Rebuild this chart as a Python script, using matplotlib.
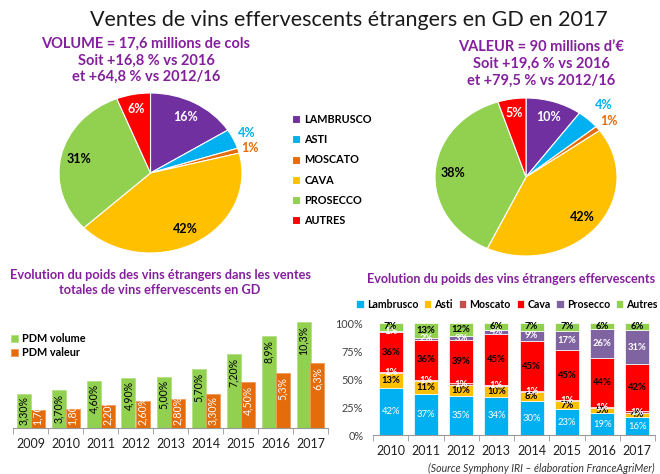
import matplotlib
matplotlib.use('Agg')
import matplotlib.pyplot as plt
from matplotlib.transforms import TransformedBbox
import numpy as np

plt.rcParams['font.family'] = ['Lato', 'DejaVu Sans']

# ---------------- data ----------------
pie_names = ['LAMBRUSCO', 'ASTI', 'MOSCATO', 'CAVA', 'PROSECCO', 'AUTRES']
pie_volume = [16, 4, 1, 42, 31, 6]
pie_valeur = [10, 4, 1, 42, 38, 5]

years_pdm = ['2009', '2010', '2011', '2012', '2013', '2014', '2015', '2016', '2017']
pdm_volume = [3.3, 3.7, 4.6, 4.9, 5.0, 5.7, 7.2, 8.9, 10.3]
pdm_valeur = [1.7, 1.8, 2.2, 2.6, 2.8, 3.3, 4.5, 5.3, 6.3]
pdm_volume_labels = ['3,30%', '3,70%', '4,60%', '4,90%', '5,00%', '5,70%', '7,20%', '8,9%', '10,3%']
pdm_valeur_labels = ['1,70%', '1,80%', '2,20%', '2,60%', '2,80%', '3,30%', '4,50%', '5,3%', '6,3%']

years_mix = ['2010', '2011', '2012', '2013', '2014', '2015', '2016', '2017']
mix_names = ['Lambrusco', 'Asti', 'Moscato', 'Cava', 'Prosecco', 'Autres']
lambrusco = [42, 37, 35, 34, 30, 23, 19.4, 16]
asti = [13, 11, 10, 10, 8, 7, 4.6, 4]
moscato = [1, 1, 1, 1, 1, 1, 1.0, 1]
cava = [36, 36, 39, 45, 45, 45, 43.6, 42]
prosecco = [1, 2, 3, 4, 9, 17, 25.6, 31]
autres = [7, 13, 12, 6, 7, 7, 5.8, 6]

# ---------------- styles ----------------
pie_colors = ['#7030A0', '#00B0F0', '#E46C0A', '#FFC000', '#92D050', '#FF0000']
mix_colors = ['#00B0F0', '#FFC000', '#C0504D', '#FF0000', '#8064A2', '#92D050']
purple = '#84209C'

W, H = 660, 474
fig = plt.figure(figsize=(W / 100, H / 100), dpi=100)


def fx(px):
    return px / W


def fy(py):
    return 1 - py / H


# ---------------- title & headers ----------------
fig.text(fx(349), fy(20), 'Ventes de vins effervescents étrangers en GD en 2017',
         ha='center', va='center', fontsize=15.5, color='#1a1a1a')

for i, s in enumerate(['VOLUME = 17,6 millions de cols', 'Soit +16,8 % vs 2016',
                       'et +64,8 % vs 2012/16']):
    fig.text(fx(146), fy(44 + 16.5 * i), s, ha='center', va='center', fontsize=10.5,
             fontweight='bold', color=purple)
for i, s in enumerate(['VALEUR = 90 millions d\u2019€', 'Soit +19,6 % vs 2016',
                       'et +79,5 % vs 2012/16']):
    fig.text(fx(541), fy(47 + 17 * i), s, ha='center', va='center', fontsize=10.5,
             fontweight='bold', color=purple)


# ---------------- pies ----------------
def draw_pie(l, t, r, b, values, out_dists):
    ax = fig.add_axes([fx(l), fy(b), fx(r) - fx(l), fy(t) - fy(b)])
    wedges, _ = ax.pie(values, colors=pie_colors, startangle=90, counterclock=False,
                       wedgeprops=dict(edgecolor='white', linewidth=0.8))
    ax.set_aspect('auto')
    ax.set_xlim(-1, 1)
    ax.set_ylim(-1, 1)
    ax.axis('off')
    styles = [('white', 0.8), ('#00B0F0', out_dists[0]), ('#E46C0A', out_dists[1]),
              ('black', 0.8), ('black', 0.8), ('white', 0.82)]
    for w, v, (col, d) in zip(wedges, values, styles):
        mid = np.deg2rad((w.theta1 + w.theta2) / 2)
        ax.text(d * np.cos(mid), d * np.sin(mid), f'{v}%', ha='center', va='center',
                fontsize=9, fontweight='bold', color=col, clip_on=False)
    return wedges


wedges = draw_pie(59, 93, 242, 253, pie_volume, (1.16, 1.13))
draw_pie(435, 98, 617, 256, pie_valeur, (1.25, 1.15))

fig.legend(wedges, pie_names, loc='upper left', bbox_to_anchor=(fx(292), fy(114)),
           frameon=False, handlelength=0.75, handleheight=0.75, handletextpad=0.4,
           labelspacing=0.85, borderpad=0, borderaxespad=0,
           prop=dict(size=7.8, weight='bold'))

# ---------------- left bar chart ----------------
fig.text(fx(160), fy(275), 'Evolution du poids des vins étrangers dans les ventes',
         ha='center', va='center', fontsize=9.2, fontweight='bold', color=purple)
fig.text(fx(160), fy(290), 'totales de vins effervescents en GD',
         ha='center', va='center', fontsize=9.2, fontweight='bold', color=purple)

px_per_unit = 10.3
ax1 = fig.add_axes([fx(13), fy(428), 315 / W, 12 * px_per_unit / H])
x1 = np.arange(len(years_pdm))
b1 = ax1.bar(x1 - 0.2, pdm_volume, 0.4, color='#92D050', edgecolor='#B4E084',
             linewidth=0.6, label='PDM volume')
b2 = ax1.bar(x1 + 0.2, pdm_valeur, 0.4, color='#E46C0A', edgecolor='#F09A5A',
             linewidth=0.6, label='PDM valeur')
ax1.set_xlim(-0.5, len(years_pdm) - 0.5)
ax1.set_ylim(0, 12)
for sp in ('top', 'right', 'left'):
    ax1.spines[sp].set_visible(False)
ax1.spines['bottom'].set_color('#999999')
ax1.set_yticks([])
ax1.set_xticks(x1, years_pdm)
ax1.set_xticks(np.arange(-0.5, len(years_pdm)), minor=True)
ax1.tick_params(axis='x', which='major', length=0, pad=7, labelsize=9, labelcolor='#222222')
ax1.tick_params(axis='x', which='minor', length=4, color='#999999')

fig.canvas.draw()
renderer = fig.canvas.get_renderer()
base_px = ax1.transData.transform((0, 0))[1]
for bars, labels, col in ((b1, pdm_volume_labels, 'black'), (b2, pdm_valeur_labels, 'white')):
    for rect, lab in zip(bars, labels):
        cx = rect.get_x() + rect.get_width() / 2
        h = rect.get_height()
        t = ax1.text(cx, h - 0.35, lab, rotation=90, ha='center', va='top', fontsize=7.6,
                     color=col)
        bb = t.get_window_extent(renderer)
        if bb.y0 < base_px + 2:
            t.set_y(0.3)
            t.set_va('bottom')
            t.set_clip_box(TransformedBbox(rect.get_bbox(), ax1.transData))
            t.set_clip_on(True)

fig.legend(handles=[b1, b2], loc='upper left', bbox_to_anchor=(fx(11), fy(333)),
           frameon=False, handlelength=0.65, handleheight=0.65, handletextpad=0.4,
           labelspacing=0.3, borderpad=0, borderaxespad=0,
           prop=dict(size=7.8, weight='bold'))

# ---------------- right stacked chart ----------------
fig.text(fx(511), fy(279), 'Evolution du poids des vins étrangers effervescents',
         ha='center', va='center', fontsize=9.1, fontweight='bold', color=purple)

ax2 = fig.add_axes([fx(373), fy(435), 282 / W, 112 / H])
x2 = np.arange(len(years_mix))
series = [lambrusco, asti, moscato, cava, prosecco, autres]
label_cols = ['white', 'black', 'white', 'black', 'white', 'black']
label_w = ['normal', 'bold', 'bold', 'bold', 'bold', 'bold']
bottom = np.zeros(len(years_mix))
handles = []
for s, n, c, lc, lw in zip(series, mix_names, mix_colors, label_cols, label_w):
    vals = np.array(s, dtype=float)
    bars = ax2.bar(x2, vals, 0.68, bottom=bottom, color=c, edgecolor='white',
                   linewidth=0.5, label=n)
    handles.append(bars)
    ax2.bar_label(bars, labels=[f'{round(v)}%' for v in vals], label_type='center',
                  color=lc, fontsize=6.8, fontweight=lw)
    bottom += vals

ax2.set_xlim(-0.5, len(years_mix) - 0.5)
ax2.set_ylim(0, 100)
for sp in ('top', 'right', 'left'):
    ax2.spines[sp].set_visible(False)
ax2.spines['bottom'].set_color('#999999')
ax2.set_yticks([0, 25, 50, 75, 100], ['0%', '25%', '50%', '75%', '100%'])
ax2.tick_params(axis='y', length=0, pad=7, labelsize=7.8, labelcolor='#404040')
ax2.set_xticks(x2, years_mix)
ax2.set_xticks(np.arange(-0.5, len(years_mix)), minor=True)
ax2.tick_params(axis='x', which='major', length=0, pad=7, labelsize=9, labelcolor='#222222')
ax2.tick_params(axis='x', which='minor', length=4, color='#999999')

fig.legend(handles=handles, labels=mix_names, loc='center', bbox_to_anchor=(fx(507), fy(304)),
           ncol=6, frameon=False, handlelength=0.7, handleheight=0.7, handletextpad=0.3,
           columnspacing=0.55, borderpad=0, borderaxespad=0,
           prop=dict(size=7.6, weight='bold'))

fig.text(fx(655), fy(468), '(Source Symphony IRI \u2013 élaboration FranceAgriMer)',
         ha='right', va='center', fontsize=7.6, fontstyle='italic', color='#333333')

fig.savefig('out.png', dpi=100)
